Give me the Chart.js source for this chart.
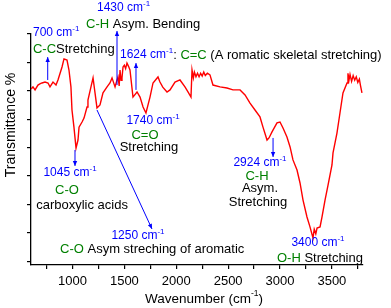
<!DOCTYPE html>
<html>
<head>
<meta charset="utf-8">
<script src="https://cdn.jsdelivr.net/npm/chart.js@4/dist/chart.umd.min.js"></script>
<style>
html,body{margin:0;padding:0;background:#fff;}
canvas{display:block;}
</style>
</head>
<body>
<canvas id="c" width="391" height="308"></canvas>
<script>
// ---- data ----
const wavenumbers = [600,619,639,667,690,706,735,764,783,812,841,860,899,918,947,966,985,995,1014,1034,1053,1063,1092,1111,1140,1149,1178,1198,1217,1236,1265,1294,1333,1361,1381,1410,1425,1439,1450,1458,1468,1477,1487,1500,1512,1525,1540,1554,1583,1622,1651,1680,1708,1747,1776,1824,1843,1870,1911,1940,1988,2036,2084,2113,2142,2152,2165,2175,2190,2205,2220,2235,2250,2265,2280,2300,2325,2354,2422,2489,2547,2615,2663,2711,2759,2807,2836,2875,2894,2923,2971,3000,3029,3067,3097,3125,3164,3193,3222,3260,3289,3318,3330,3345,3357,3386,3405,3434,3463,3501,3511,3549,3578,3607,3646,3655,3665,3675,3690,3705,3720,3735,3750,3765,3775,3790];
const transmittance = [76.2,77.1,75.8,77.9,78.5,78.8,79.2,78.8,77.1,79.2,77.9,80.1,85.7,89.2,88.7,84.4,77.1,67.1,59.7,50.6,54.1,59.7,61.9,63.6,68.4,71.4,77.1,81.0,74.5,68.0,69.3,74.5,77.1,78.8,81.0,77.1,79.5,81.4,77.5,84.4,80.0,81.0,85.7,86.5,85.0,87.4,86.0,84.4,72.7,74.9,72.7,68.4,65.8,72.7,78.8,81.4,79.2,77.0,74.9,75.8,79.2,80.1,77.1,74.9,72.7,84.4,81.0,83.5,81.5,83.0,81.5,83.0,81.8,83.5,82.0,83.0,82.3,77.9,77.1,76.6,75.8,75.8,73.6,70.1,67.1,64.1,59.7,54.1,55.0,57.6,61.5,61.9,59.3,55.4,51.1,45.5,41.1,35.5,28.1,20.8,16.5,11.7,15.5,13.5,16.0,16.5,20.8,28.1,34.6,43.3,48.5,57.1,65.8,74.5,78.8,83.0,80.0,82.5,79.5,82.0,80.0,81.5,79.0,80.5,77.9,74.5];
const xTickValues = [750,1000,1250,1500,1750,2000,2250,2500,2750,3000,3250,3500,3750];
const xTickLabels = ['','1000','','1500','','2000','','2500','','3000','','3500',''];
const yTickValues = Array.from({length:17},(_,i)=>100 - i*6.15);

const BLUE = '#0000ff', GREEN = '#008000', BLACK = '#000000';
const FONT = '"Liberation Sans", Arial, sans-serif';

// annotation lines: anchor in data coords (wavenumber, transmittance), align
const annotationLines = [
  {x:619, y:100.4, align:'left', parts:[['700 cm',BLUE],['-1',BLUE,'sup']]},
  {x:619, y:93.5, align:'left', parts:[['C-C',GREEN],['Stretching',BLACK]]},
  {x:1236, y:111.3, align:'left', parts:[['1430 cm',BLUE],['-1',BLUE,'sup']]},
  {x:1130, y:104.3, align:'left', parts:[['C-H',GREEN],[' Asym. Bending',BLACK]]},
  {x:1458, y:90.9, align:'left', parts:[['1624 cm',BLUE],['-1',BLUE,'sup'],[': ',BLACK],['C=C',GREEN],[' (A romatic skeletal stretching)',BLACK]]},
  {x:1776, y:62.3, align:'center', parts:[['1740 cm',BLUE],['-1',BLUE,'sup']]},
  {x:1699, y:56.3, align:'center', parts:[['C=O',GREEN]]},
  {x:1737, y:51.1, align:'center', parts:[['Stretching',BLACK]]},
  {x:976, y:39.8, align:'center', parts:[['1045 cm',BLUE],['-1',BLUE,'sup']]},
  {x:947, y:32.5, align:'center', parts:[['C-O',GREEN]]},
  {x:1092, y:26.0, align:'center', parts:[['carboxylic acids',BLACK]]},
  {x:1631, y:12.6, align:'center', parts:[['1250 cm',BLUE],['-1',BLUE,'sup']]},
  {x:880, y:6.9, align:'left', parts:[['C-O',GREEN],[' Asym streching of aromatic',BLACK]]},
  {x:2807, y:44.2, align:'center', parts:[['2924 cm',BLUE],['-1',BLUE,'sup']]},
  {x:2778, y:38.5, align:'center', parts:[['C-H',GREEN]]},
  {x:2807, y:33.3, align:'center', parts:[['Asym.',BLACK]]},
  {x:2788, y:27.3, align:'center', parts:[['Stretching',BLACK]]},
  {x:3366, y:9.5, align:'center', parts:[['3400 cm',BLUE],['-1',BLUE,'sup']]},
  {x:2971, y:3.0, align:'left', parts:[['O-H',GREEN],[' Stretching',BLACK]]}
];
// arrows: from -> to (head at "to"), data coords
const annotationArrows = [
  {from:[761,80.1], to:[761,90.0]},
  {from:[1429,77.9], to:[1429,101.3]},
  {from:[1612,75.8], to:[1612,87.4]},
  {from:[1024,49.8], to:[1024,42.9]},
  {from:[1236,67.1], to:[1766,15.6]},
  {from:[2933,55.0], to:[2933,46.8]}
];

function drawParts(ctx, px, py, parts, align){
  const blueF = '12px ' + FONT, supF = '8px ' + FONT;
  const fontFor = p => p[2]==='sup' ? supF : (p[1]===BLUE ? blueF : '13px ' + FONT);
  let total = 0;
  parts.forEach(p => { ctx.font = fontFor(p); total += ctx.measureText(p[0]).width; });
  let x = align==='center' ? px - total/2 : px;
  ctx.textBaseline = 'middle';
  ctx.textAlign = 'left';
  parts.forEach(p => {
    ctx.font = fontFor(p);
    ctx.fillStyle = p[1];
    ctx.fillText(p[0], x, p[2]==='sup' ? py - 4 : py);
    x += ctx.measureText(p[0]).width;
  });
}

const annotPlugin = {
  id:'annot',
  afterDraw(chart){
    const ctx = chart.ctx, xs = chart.scales.x, ys = chart.scales.y, ca = chart.chartArea;
    ctx.save();
    annotationArrows.forEach(a => {
      const x1 = xs.getPixelForValue(a.from[0]), y1 = ys.getPixelForValue(a.from[1]);
      const x2 = xs.getPixelForValue(a.to[0]), y2 = ys.getPixelForValue(a.to[1]);
      ctx.strokeStyle = BLUE; ctx.fillStyle = BLUE; ctx.lineWidth = 1;
      ctx.beginPath(); ctx.moveTo(x1,y1); ctx.lineTo(x2,y2); ctx.stroke();
      const ang = Math.atan2(y2-y1, x2-x1), L = 5, W = 2.2;
      ctx.beginPath();
      ctx.moveTo(x2,y2);
      ctx.lineTo(x2 - L*Math.cos(ang) + W*Math.sin(ang), y2 - L*Math.sin(ang) - W*Math.cos(ang));
      ctx.lineTo(x2 - L*Math.cos(ang) - W*Math.sin(ang), y2 - L*Math.sin(ang) + W*Math.cos(ang));
      ctx.closePath(); ctx.fill();
    });
    annotationLines.forEach(l => {
      drawParts(ctx, xs.getPixelForValue(l.x), ys.getPixelForValue(l.y), l.parts, l.align);
    });
    // axis titles
    ctx.fillStyle = BLACK;
    ctx.save();
    ctx.translate(11.5, ca.top + 91);
    ctx.rotate(-Math.PI/2);
    ctx.font = '14px ' + FONT;
    ctx.textAlign = 'center'; ctx.textBaseline = 'middle';
    ctx.fillText('Transmittance %', 0, 0);
    ctx.restore();
    const tParts = [['Wavenumber (cm',''],['-1','sup'],[')','']];
    let tw = 0;
    tParts.forEach(p => { ctx.font = (p[1]==='sup'?'8.5px ':'13.5px ') + FONT; tw += ctx.measureText(p[0]).width; });
    let tx = (ca.left + ca.right)/2 + 7 - tw/2;
    ctx.textAlign = 'left'; ctx.textBaseline = 'middle';
    tParts.forEach(p => {
      ctx.font = (p[1]==='sup'?'8.5px ':'13.5px ') + FONT;
      ctx.fillText(p[0], tx, p[1]==='sup' ? 294 : 299);
      tx += ctx.measureText(p[0]).width;
    });
    ctx.restore();
  }
};

new Chart(document.getElementById('c'), {
  type:'line',
  data:{
    datasets:[{
      data: wavenumbers.map((w,i)=>({x:w, y:transmittance[i]})),
      borderColor:'#ff0000',
      borderWidth:1.4,
      pointRadius:0,
      tension:0,
      fill:false
    }]
  },
  options:{
    responsive:false,
    animation:false,
    devicePixelRatio:1,
    layout:{padding:{left:0, top:34, right:28, bottom:0}},
    plugins:{legend:{display:false}, tooltip:{enabled:false}},
    scales:{
      x:{
        type:'linear', position:'bottom', min:600, max:3800,
        afterBuildTicks: s => { s.ticks = xTickValues.map(v=>({value:v})); },
        afterFit: s => { s.height = 43; },
        ticks:{
          autoSkip:false, maxRotation:0, padding:5,
          color:'#000', font:{family:FONT, size:13},
          callback:(v, i) => xTickLabels[i]
        },
        grid:{drawOnChartArea:false, drawTicks:true, tickLength:4, color:'#000', lineWidth:1.2},
        border:{display:true, color:'#000', width:1.3}
      },
      y:{
        type:'linear', min:0, max:100,
        afterBuildTicks: s => { s.ticks = yTickValues.map(v=>({value:v})); },
        afterFit: s => { s.width = 31; },
        ticks:{display:true, callback:() => '', padding:0},
        grid:{drawOnChartArea:false, drawTicks:true, tickLength:4, color:'#000', lineWidth:1.2},
        border:{display:true, color:'#000', width:1.3}
      }
    }
  },
  plugins:[annotPlugin]
});
</script>
</body>
</html>
